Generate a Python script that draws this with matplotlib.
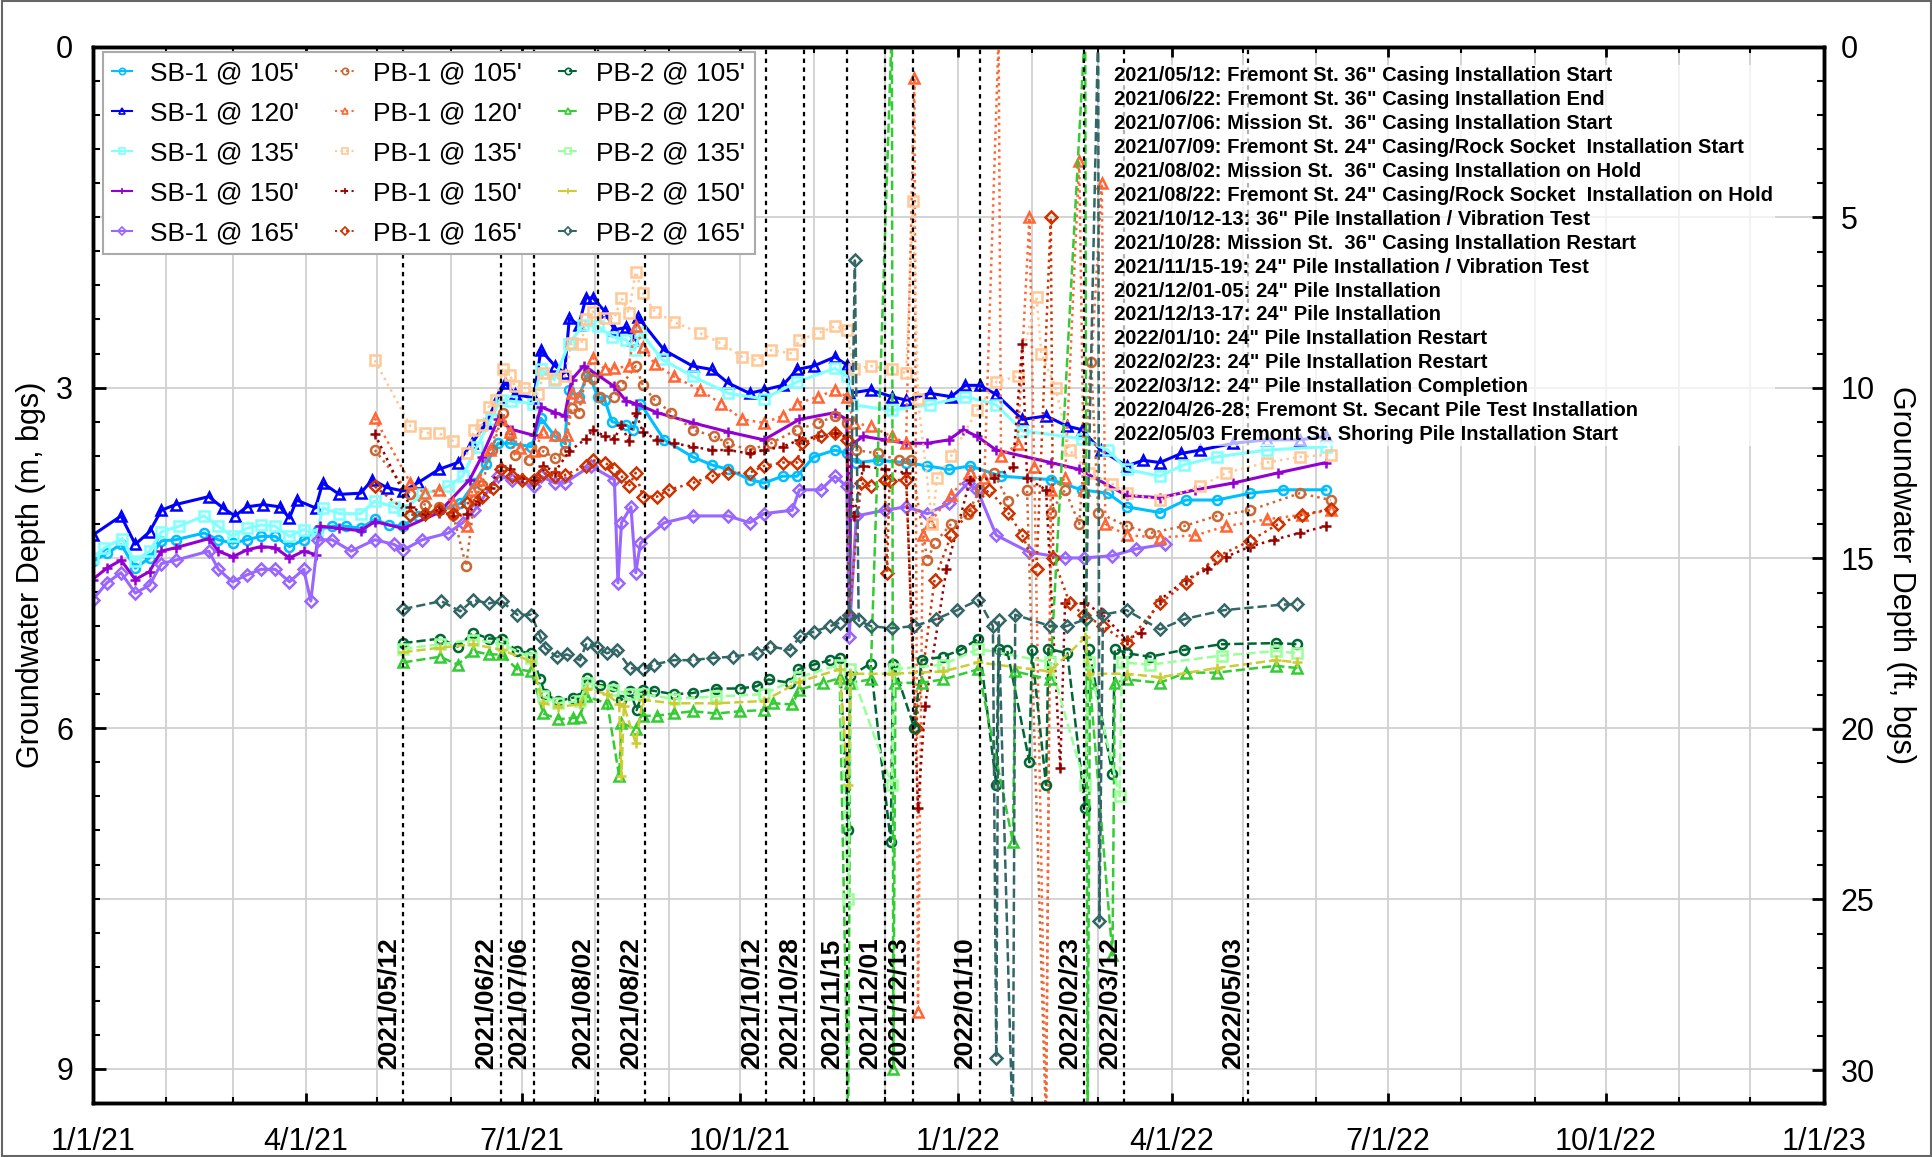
import numpy as np
import matplotlib
matplotlib.use('Agg')
import matplotlib.pyplot as plt
import matplotlib.dates as mdates
from matplotlib.patches import Rectangle

plt.rcParams['font.family'] = ['Liberation Sans', 'DejaVu Sans']

# (days since 2021-01-01, groundwater depth in m)
sb1_105 = np.array([(0,4.53),(6,4.46),(12,4.38),(18,4.59),(24,4.50),(29,4.35),(35,4.34),(47,4.28),(53,4.34),(59,4.37),(65,4.34),(71,4.31),(77,4.31),(83,4.40),(89,4.34),(95,4.25),(101,4.22),(107,4.22),(113,4.24),(119,4.16),(125,4.21),(131,4.22),(137,4.13),(146,4.08),(155,4.02),(161,3.84),(166,3.67),(171,3.49),(176,3.49),(185,3.52),(189,3.27),(195,3.43),(199,3.49),(201,3.02),(205,3.08),(209,2.87),(213,3.08),(216,3.11),(219,3.30),(225,3.33),(228,3.37),(231,3.14),(241,3.46),(253,3.61),(261,3.68),(268,3.72),(277,3.81),(283,3.84),(291,3.78),(297,3.78),(304,3.61),(313,3.55),(318,3.58),(322,3.66),(331,3.64),(343,3.66),(352,3.69),(361,3.72),(370,3.69),(383,3.78),(404,3.81),(417,3.90),(428,3.93),(436,4.05),(450,4.10),(461,3.99),(474,3.99),(488,3.93),(502,3.90),(520,3.90)])
sb1_120 = np.array([(0,4.30),(12,4.13),(18,4.38),(24,4.27),(29,4.08),(35,4.03),(49,3.96),(55,4.06),(60,4.13),(65,4.05),(72,4.03),(79,4.05),(83,4.15),(86,3.99),(94,4.06),(97,3.84),(104,3.94),(113,3.93),(118,3.81),(124,3.88),(131,3.91),(137,3.84),(146,3.72),(154,3.66),(160,3.49),(166,3.31),(171,3.08),(174,2.96),(178,3.06),(186,3.09),(189,2.67),(195,2.81),(199,2.87),(201,2.39),(205,2.45),(208,2.21),(211,2.21),(216,2.33),(220,2.49),(225,2.47),(228,2.58),(230,2.38),(241,2.67),(253,2.81),(261,2.84),(268,2.96),(277,3.05),(283,3.02),(291,2.98),(297,2.84),(304,2.81),(313,2.73),(318,2.80),(319,3.05),(328,3.02),(337,3.08),(343,3.11),(353,3.05),(362,3.08),(368,2.98),(374,2.98),(381,3.06),(392,3.28),(402,3.25),(411,3.34),(417,3.37),(425,3.55),(436,3.69),(443,3.64),(450,3.66),(459,3.58),(467,3.55),(481,3.49),(495,3.46),(509,3.46),(520,3.43)])
sb1_135 = np.array([(0,4.50),(5,4.41),(12.5,4.33),(17.7,4.53),(24,4.44),(29,4.27),(36.5,4.22),(47,4.13),(53,4.22),(59,4.31),(65,4.24),(71,4.21),(77,4.22),(83,4.31),(89,4.25),(94.5,4.30),(97,4.06),(104,4.11),(113,4.11),(119,4.00),(127,4.05),(131,4.08),(139,3.94),(150,3.87),(156,3.78),(162,3.52),(168,3.28),(172,3.11),(176.6,3.12),(185.6,3.14),(189,2.84),(194.6,2.93),(200.7,2.62),(206.7,2.45),(213,2.46),(219,2.55),(225,2.58),(228.5,2.67),(231,2.51),(240,2.75),(253,2.90),(268,3.05),(283,3.10),(297,2.95),(313,2.83),(318,2.90),(320,3.15),(337,3.20),(353,3.15),(368,3.08),(381,3.15),(392,3.38),(417,3.45),(428,3.55),(436,3.72),(450,3.78),(460,3.68),(474,3.61),(495,3.55),(520,3.52)])
sb1_150 = np.array([(0,4.69),(6,4.59),(12,4.52),(18,4.69),(24,4.62),(29,4.44),(35,4.41),(49,4.33),(53,4.44),(59,4.49),(65,4.43),(71,4.40),(77,4.41),(83,4.50),(89,4.44),(94,4.47),(96,4.22),(104,4.24),(113,4.26),(119,4.18),(131,4.24),(146,4.10),(159,3.81),(164,3.61),(171,3.28),(177,3.37),(186,3.42),(189,3.17),(195,3.22),(199,3.25),(202,2.93),(207,2.81),(213,2.89),(220,2.99),(225,3.12),(229,3.14),(238,3.22),(253,3.31),(268,3.39),(283,3.46),(298,3.28),(313,3.22),(318,3.28),(319,5.0),(320,3.5),(325,3.43),(334,3.46),(343,3.49),(352,3.49),(361,3.46),(367,3.37),(373,3.43),(381,3.55),(404,3.66),(416,3.72),(436,3.95),(450,3.97),(465,3.90),(481,3.84),(500,3.75),(520,3.66)])
sb1_165 = np.array([(0,4.87),(6,4.72),(12,4.63),(18,4.81),(24,4.74),(29,4.55),(35,4.52),(49,4.44),(53,4.60),(59,4.71),(65,4.65),(71,4.60),(77,4.60),(83,4.71),(89,4.60),(92,4.88),(95,4.34),(101,4.34),(109,4.44),(119,4.34),(127,4.38),(131,4.43),(139,4.34),(150,4.28),(156,4.19),(161,4.08),(171,3.78),(177,3.81),(186,3.87),(189,3.78),(195,3.84),(199,3.84),(210,3.69),(220,3.81),(221.5,4.72),(223,4.19),(227,4.05),(229,4.63),(231,4.37),(241,4.19),(253,4.13),(268,4.13),(277,4.19),(283,4.11),(295,4.08),(298,3.90),(307,3.90),(313,3.78),(318,3.87),(319,5.2),(322,4.13),(334,4.08),(343,4.05),(352,4.11),(361,4.02),(369,3.84),(373,3.90),(381,4.30),(395,4.45),(410,4.50),(418,4.50),(430,4.48),(440,4.42),(452,4.38)])

pb1_105 = np.array([(119,3.55),(134,3.94),(140,4.03),(146,4.05),(152,4.12),(157.5,4.57),(161,3.99),(164,3.86),(168.5,3.55),(173,3.22),(176,3.42),(178,3.59),(184,3.64),(190,3.56),(195,3.62),(199,3.56),(202,3.18),(205,3.22),(208,2.90),(211,2.92),(214,3.08),(220,3.08),(223,2.98),(229,2.81),(232,2.98),(237,3.11),(244,3.22),(253,3.37),(262,3.43),(268,3.49),(277,3.55),(286,3.49),(297,3.37),(306,3.31),(313,3.25),(318,3.31),(322,3.55),(331,3.58),(340,3.64),(345,3.64),(352,4.52),(355,4.37),(362,4.2),(369,4.11),(374,3.9),(380,3.75),(386,4.0),(394,3.9),(402,9.5),(404,4.1),(410,3.9),(416,4.2),(421,2.77),(424,4.1),(436,4.22),(446,4.28),(460,4.22),(474,4.13),(488,4.08),(509,3.93),(522,3.99)])
pb1_120 = np.array([(119,3.27),(134,3.84),(140,3.93),(146,3.90),(152,4.02),(158,4.22),(160,3.90),(163,3.81),(167.5,3.55),(172,3.28),(176,3.39),(180,3.53),(186,3.56),(190,3.39),(195,3.42),(200,3.42),(202,3.05),(205,3.08),(211,2.74),(216,2.84),(220,2.83),(226,2.81),(229,2.46),(232,2.64),(237,2.79),(245,2.90),(256,3.02),(265,3.14),(274,3.28),(283,3.31),(291,3.25),(297,3.14),(306,3.08),(313,3.02),(318,3.08),(321,3.31),(328,3.34),(337,3.43),(343,3.49),(346.5,0.27),(348,8.5),(350,4.3),(353,4.19),(362,3.95),(370,3.74),(376,3.8),(382,-0.1),(383,3.6),(390,3.5),(395,1.5),(397,3.7),(402,9.5),(404,3.9),(410,3.8),(416,1.0),(418,3.9),(425.5,1.2),(427,4.2),(436,4.30),(450,4.32),(465,4.30),(478,4.22),(495,4.16),(510,4.12),(522,4.08)])
pb1_135 = np.array([(119,2.76),(134,3.34),(140,3.40),(146,3.40),(152,3.47),(158,3.58),(161,3.37),(164,3.33),(167,3.17),(170,3.11),(173,2.84),(176,2.89),(178,2.99),(182,3.00),(188,3.06),(190,2.87),(195,2.92),(199,2.90),(202,2.61),(206,2.62),(208,2.40),(211,2.33),(216,2.39),(220,2.39),(223,2.21),(226,2.34),(229,1.98),(232,2.17),(237,2.33),(245,2.42),(256,2.52),(265,2.61),(274,2.73),(280,2.76),(286,2.67),(295,2.70),(298,2.58),(306,2.52),(313,2.46),(318,2.49),(321,2.84),(328,2.81),(337,2.84),(343,2.87),(346,1.36),(348,3.1),(354,4.2),(356,3.8),(362,3.6),(373,3.2),(381,2.95),(390,2.9),(398,2.2),(400,2.7),(406,3.0),(412,3.55),(420,3.75),(430,3.85),(436,3.93),(450,3.99),(467,3.87),(478,3.75),(495,3.66),(509,3.61),(522,3.59)])
pb1_150 = np.array([(119,3.41),(134,4.05),(140,4.11),(146,4.08),(152,4.13),(158,4.11),(163,4.00),(167.5,3.88),(172,3.69),(176,3.72),(181,3.80),(186,3.81),(190,3.69),(195,3.74),(201,3.56),(208,3.45),(211,3.37),(216,3.43),(220,3.45),(223,3.33),(226,3.47),(229,3.22),(232,3.39),(238,3.46),(245,3.49),(253,3.52),(261,3.55),(268,3.55),(277,3.58),(283,3.55),(291,3.52),(298,3.46),(306,3.43),(313,3.40),(318,3.43),(321,4.13),(325,3.69),(334,3.72),(343,3.75),(348,6.7),(351,5.8),(360,4.6),(370,3.81),(380,3.8),(388,3.7),(392,2.62),(394,3.8),(402,3.9),(408,6.35),(410,4.9),(418,4.9),(425,4.98),(436,5.22),(442,5.16),(450,4.87),(461,4.69),(470,4.60),(478,4.49),(488,4.40),(498,4.34),(509,4.28),(520,4.22)])
pb1_165 = np.array([(119,3.87),(134,4.12),(140,4.11),(146,4.08),(152,4.11),(158,4.02),(164,3.96),(169,3.88),(172,3.72),(177,3.78),(181,3.81),(186,3.81),(190,3.75),(195,3.78),(199,3.77),(208,3.69),(211,3.64),(216,3.66),(220,3.72),(223,3.78),(226,3.87),(229,3.75),(232,3.96),(238,3.96),(243,3.90),(253,3.84),(261,3.78),(268,3.75),(277,3.75),(283,3.69),(291,3.66),(297,3.66),(299,3.49),(307,3.43),(313,3.40),(318,3.46),(319,5.0),(324,3.84),(328,3.87),(334,3.81),(335,4.63),(336,3.82),(343,3.81),(347,6.0),(355,4.69),(362,4.3),(370,4.08),(378,3.9),(386,4.1),(392,4.3),(398,4.6),(404,1.5),(405,4.5),(412,4.9),(418,5.0),(426,5.1),(436,5.25),(450,4.9),(461,4.72),(474,4.49),(488,4.35),(500,4.2),(510,4.12),(522,4.07)])

pb2_105 = np.array([(131,5.25),(146.5,5.21),(154,5.28),(160.5,5.16),(167,5.21),(172.5,5.21),(179,5.32),(185,5.34),(188.7,5.57),(190.8,5.70),(196.4,5.76),(202.7,5.73),(205.5,5.73),(208.3,5.56),(214,5.62),(219.6,5.63),(223,5.75),(226.6,5.67),(229.4,5.84),(232.2,5.66),(236.5,5.67),(245,5.70),(253,5.69),(263,5.65),(273,5.65),(280,5.63),(285,5.57),(294,5.60),(297.6,5.48),(304,5.44),(311,5.40),(315,5.38),(318.6,6.9),(319.5,5.54),(328,5.43),(336.5,7.0),(337.5,5.43),(346.5,6.0),(349.5,5.40),(358.5,5.37),(366,5.31),(373.5,5.21),(381,6.5),(382,5.3),(385.6,5.31),(395,6.3),(396,5.31),(402,6.5),(403,5.3),(411,5.34),(418.5,6.7),(420,5.3),(430,6.4),(431,5.3),(436,5.34),(446,5.37),(460,5.31),(476,5.26),(499,5.25),(508,5.26)])
pb2_120 = np.array([(131,5.42),(146.5,5.37),(154,5.44),(160.5,5.32),(167,5.35),(172.5,5.35),(179,5.48),(185,5.50),(190,5.87),(196.4,5.92),(202.7,5.91),(205.5,5.90),(208,5.72),(217,5.78),(222,6.42),(223,5.95),(229,6.01),(232,5.89),(238,5.89),(245,5.87),(253,5.85),(263,5.87),(273,5.85),(283,5.84),(287,5.78),(295,5.79),(298,5.66),(308,5.60),(315,5.56),(318.6,9.5),(319.5,5.6),(328,5.57),(337,-0.2),(337.6,9.0),(338.5,5.6),(349.5,5.60),(358.5,5.57),(373.5,5.48),(388,7.0),(389,5.5),(403.7,5.57),(418.5,-0.2),(419.5,9.5),(420.5,5.6),(430,8.0),(431,5.6),(436,5.57),(450,5.60),(461,5.51),(474,5.51),(499,5.45),(508,5.47)])
pb2_135 = np.array([(131,5.30),(146.5,5.26),(160.5,5.22),(172.5,5.26),(185,5.38),(190,5.72),(196.4,5.78),(205.5,5.76),(208.3,5.60),(219.6,5.66),(226.6,5.70),(232.2,5.70),(245,5.74),(263,5.72),(283,5.70),(298,5.55),(315,5.44),(318.6,7.5),(319.5,5.48),(337,6.5),(338,5.48),(358.5,5.44),(373.5,5.30),(403.7,5.42),(418.5,6.5),(420,5.42),(433,6.6),(434,5.42),(446,5.44),(476,5.36),(499,5.32),(508,5.34)])
pb2_150 = np.array([(131,5.33),(146.5,5.29),(160.5,5.26),(172.5,5.31),(185,5.41),(190,5.78),(196.4,5.81),(205.5,5.79),(208.3,5.65),(217,5.70),(222,5.79),(223,6.42),(224,5.8),(229,6.13),(232,5.75),(245,5.78),(263,5.78),(283,5.76),(298,5.59),(315,5.48),(318.6,6.5),(319.5,5.52),(337,5.52),(358.5,5.50),(373.5,5.42),(403.7,5.50),(418.5,5.2),(420,5.52),(436,5.52),(450,5.55),(474,5.47),(499,5.40),(508,5.42)])
pb2_165 = np.array([(131,4.95),(147,4.88),(155,4.97),(160.5,4.87),(167,4.90),(172.5,4.88),(179,5.00),(185,5.00),(188.7,5.19),(190.8,5.29),(195.7,5.37),(200,5.35),(205.5,5.40),(208.3,5.25),(212.5,5.28),(216.8,5.34),(221,5.31),(226.6,5.47),(232.2,5.48),(236.5,5.44),(245,5.40),(253,5.40),(261.7,5.38),(270,5.37),(280,5.34),(285.6,5.28),(294,5.31),(298.3,5.19),(304,5.15),(311,5.10),(315,5.07),(319,5.00),(321.4,1.88),(323,5.05),(328,5.10),(337,5.12),(346.4,5.10),(355.5,5.04),(364.5,4.96),(373.5,4.87),(379.6,5.10),(381,8.9),(382,5.05),(388,9.6),(389,5.0),(403.7,5.10),(410.7,5.10),(418.7,5.04),(424,-0.2),(424.5,7.7),(426,5.0),(436,4.96),(450,5.13),(460,5.04),(477,4.96),(502,4.91),(508,4.91)])

event_dates = ['2021-05-12', '2021-06-22', '2021-07-06', '2021-08-02', '2021-08-22',
               '2021-10-12', '2021-10-28', '2021-11-15', '2021-12-01', '2021-12-13',
               '2022-01-10', '2022-02-23', '2022-03-12', '2022-05-03']

event_notes = [
    '2021/05/12: Fremont St. 36" Casing Installation Start',
    '2021/06/22: Fremont St. 36" Casing Installation End',
    '2021/07/06: Mission St.  36" Casing Installation Start',
    '2021/07/09: Fremont St. 24" Casing/Rock Socket  Installation Start',
    '2021/08/02: Mission St.  36" Casing Installation on Hold',
    '2021/08/22: Fremont St. 24" Casing/Rock Socket  Installation on Hold',
    '2021/10/12-13: 36" Pile Installation / Vibration Test',
    '2021/10/28: Mission St.  36" Casing Installation Restart',
    '2021/11/15-19: 24" Pile Installation / Vibration Test',
    '2021/12/01-05: 24" Pile Installation',
    '2021/12/13-17: 24" Pile Installation',
    '2022/01/10: 24" Pile Installation Restart',
    '2022/02/23: 24" Pile Installation Restart',
    '2022/03/12: 24" Pile Installation Completion',
    '2022/04/26-28: Fremont St. Secant Pile Test Installation',
    '2022/05/03 Fremont St. Shoring Pile Installation Start',
]

series = [
    ("SB-1 @ 105'", sb1_105, '#00BFFF', 'o', '-'),
    ("SB-1 @ 120'", sb1_120, '#0000FF', '^', '-'),
    ("SB-1 @ 135'", sb1_135, '#80FFFF', 's', '-'),
    ("SB-1 @ 150'", sb1_150, '#9400D3', '+', '-'),
    ("SB-1 @ 165'", sb1_165, '#9966FF', 'D', '-'),
    ("PB-1 @ 105'", pb1_105, '#CC6633', 'o', ':'),
    ("PB-1 @ 120'", pb1_120, '#FF6633', '^', ':'),
    ("PB-1 @ 135'", pb1_135, '#FFC896', 's', ':'),
    ("PB-1 @ 150'", pb1_150, '#990000', '+', ':'),
    ("PB-1 @ 165'", pb1_165, '#CC3300', 'D', ':'),
    ("PB-2 @ 105'", pb2_105, '#006633', 'o', '--'),
    ("PB-2 @ 120'", pb2_120, '#33CC33', '^', '--'),
    ("PB-2 @ 135'", pb2_135, '#99FF99', 's', '--'),
    ("PB-2 @ 150'", pb2_150, '#CCCC33', '+', '--'),
    ("PB-2 @ 165'", pb2_165, '#336666', 'D', '--'),
]

x0 = mdates.datestr2num('2021-01-01')

fig = plt.figure(figsize=(19.33, 11.57), dpi=100)
ax = fig.add_axes([0.0479, 0.0467, 0.8957, 0.9127])

for label, d, c, m, ls in series:
    ax.plot(x0 + d[:, 0], d[:, 1], color=c, marker=m, ls=ls,
            lw=2.2 if ls == '-' else 1.8,
            ms=6.5, mew=1.8, mfc='none', label=label, zorder=2)

# gridlines
for v in np.arange(1.5, 9.2, 1.5):
    ax.axhline(v, color='#d0d0d0', lw=1.3, zorder=0)
ax.grid(which='both', axis='x', color='#d0d0d0', lw=1.3, zorder=0)
ax.set_axisbelow(True)

# event lines and labels
for ds in event_dates:
    xd = mdates.datestr2num(ds)
    ax.axvline(xd, color='black', ls=(0, (2, 2)), lw=1.6, zorder=4)
    ax.annotate(ds.replace('-', '/'), (xd, 9.0), xytext=(-2, 0), textcoords='offset points',
                rotation=90, ha='right', va='bottom', fontsize=19, fontweight='bold', zorder=5)

ax.text(0.590, 0.982, '\n'.join(event_notes), transform=ax.transAxes, va='top', ha='left',
        fontsize=14.5, fontweight='bold', linespacing=1.33, zorder=6,
        bbox=dict(facecolor='white', alpha=0.7, edgecolor='none', pad=1))

ax.set_xlim(mdates.datestr2num('2021-01-01'), mdates.datestr2num('2023-01-01'))
ax.set_ylim(9.29, 0)
ax.xaxis.set_major_locator(mdates.MonthLocator(bymonth=[1, 4, 7, 10]))
ax.xaxis.set_minor_locator(mdates.MonthLocator())
ax.xaxis.set_major_formatter(plt.FuncFormatter(
    lambda v, p: '{0.month}/{0.day}/{1}'.format(mdates.num2date(v), mdates.num2date(v).year % 100)))
ax.set_yticks([0, 3, 6, 9])
ax.set_yticks(np.arange(0, 9.3, 0.3), minor=True)

ax.tick_params(axis='x', which='major', direction='in', length=7, width=2, top=True,
               pad=17, labelsize=22)
ax.tick_params(axis='x', which='minor', direction='in', length=4, width=1.5, top=True)
ax.tick_params(axis='y', which='major', direction='in', length=9, width=2, pad=14,
               labelsize=22, right=False)
ax.tick_params(axis='y', which='minor', direction='in', length=5, width=1.5, right=False)
for s in ax.spines.values():
    s.set_linewidth(2.5)

ax.set_ylabel('Groundwater Depth (m, bgs)', fontsize=22)
ax.yaxis.set_label_coords(-0.027, 0.5)

ax2 = ax.twinx()
ax2.set_ylim(9.29 * 10 / 3, 0)
ax2.set_yticks(np.arange(0, 31, 5))
ax2.set_yticks(np.arange(0, 31, 1), minor=True)
ax2.tick_params(axis='y', which='major', direction='in', length=9, width=2, pad=12, labelsize=22)
ax2.tick_params(axis='y', which='minor', direction='in', length=5, width=1.5)
ax2.set_ylabel('Groundwater Depth (ft, bgs)', fontsize=22, rotation=270, va='bottom')
ax2.yaxis.set_label_coords(1.036, 0.5)
for s in ax2.spines.values():
    s.set_linewidth(2.5)

leg = ax.legend(ncol=3, loc='upper left', bbox_to_anchor=(0.006, 0.995), borderaxespad=0,
                fontsize=19, fancybox=False, edgecolor='#aaaaaa', framealpha=1,
                handlelength=0.75, handletextpad=0.7, columnspacing=1.35,
                labelspacing=0.6, borderpad=0.35, markerscale=0.7)
leg.get_frame().set_linewidth(1.5)
leg.set_zorder(10)
for h in leg.legend_handles:
    h.set_markeredgewidth(1.2)
    h.set_linewidth(1.5)

fig.patches.append(Rectangle((0.001, 0.001), 0.998, 0.998, transform=fig.transFigure,
                             fill=False, edgecolor='#666666', lw=1.5))

fig.savefig('out.png', dpi=100)
